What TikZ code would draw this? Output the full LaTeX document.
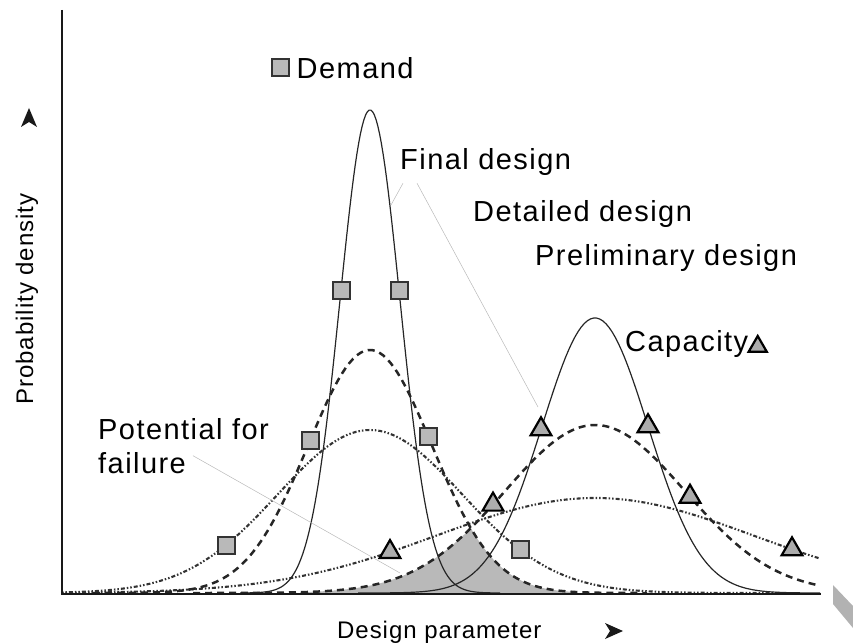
\documentclass[tikz,border=0pt]{standalone}
\usepackage{fontspec}
\setmainfont[LetterSpace=5]{Liberation Sans}
\newfontfamily\axfont[LetterSpace=4]{Liberation Sans}
\usetikzlibrary{shapes,arrows,positioning}

\begin{document}
\begin{tikzpicture}[x=1pt,y=-1pt,node distance=6pt,
  declare function={gs(\x,\m,\s,\h)=593-\h*exp(-0.5*((\x-\m)/\s)^2);}]
  \tikzstyle{lbl} = [inner sep=0pt,font=\fontsize{29}{34}\selectfont]
  \tikzstyle{axlbl} = [inner sep=0pt,font=\axfont\fontsize{24}{28}\selectfont]
  \tikzstyle{fin} = [black!85,line width=1.2pt]
  \tikzstyle{det} = [black!85,line width=2.5pt,dash pattern=on 7pt off 5pt]
  \tikzstyle{pre} = [black!80,line width=2.1pt,dash pattern=on 1.5pt off 2pt on 1.5pt off 2pt on 4pt off 2pt]
  \tikzstyle{sqmark} = [draw=black!80,fill=gray!55,line width=2pt,rectangle,minimum size=17pt,inner sep=0pt]
  \tikzstyle{trimark} = [draw=black,fill=gray!65,line width=2.2pt,regular polygon,regular polygon sides=3,minimum size=24pt,inner sep=0pt]
  \tikzstyle{leader} = [gray!55,line width=0.5pt]
  \useasboundingbox (0,0) rectangle (853,644);
  \fill[gray!55] (300,593) -- plot[domain=300:471,samples=40] (\x,{gs(\x,595,90,168)})
    -- plot[domain=471:570,samples=30] (\x,{gs(\x,370,62,243)}) -- (570,593) -- cycle;
  \draw[pre] plot[domain=62:780,samples=150] (\x,{gs(\x,370,92,163)});
  \draw[pre] plot[domain=62:820,samples=150] (\x,{gs(\x,595,158,95)});
  \draw[det] plot[domain=93:647,samples=150] (\x,{gs(\x,370,62,243)});
  \draw[det] plot[domain=193:820,samples=150] (\x,{gs(\x,595,90,168)});
  \draw[fin] plot[domain=240:500,samples=150] (\x,{gs(\x,370,30,483)});
  \draw[fin] plot[domain=358:820,samples=150] (\x,{gs(\x,595,53,275)});
  \draw[black!90,line width=2pt] (62,10) -- (62,594) -- (821,594);
  \fill[black!90] (29,108) -- (37,127) -- (29,122) -- (21,127) -- cycle;
  \fill[black!90] (623,631) -- (605,623) -- (610,631) -- (605,639) -- cycle;
  \fill[gray!60] (833,585) -- (853,606) -- (853,628) -- (833,604) -- cycle;
  \node (fsqL) [sqmark] at (341,{gs(341,370,30,483)}) {};
  \node (fsqR) [sqmark] at (399,{gs(399,370,30,483)}) {};
  \node (dsqL) [sqmark] at (310,{gs(310,370,62,243)}) {};
  \node (dsqR) [sqmark] at (428,{gs(428,370,62,243)}) {};
  \node (psqL) [sqmark] at (226,{gs(226,370,92,163)}) {};
  \node (psqR) [sqmark] at (520,{gs(520,370,92,163)}) {};
  \node (ftriL) [trimark] at (541,{gs(541,595,53,275)}) {};
  \node (ftriR) [trimark] at (648,{gs(648,595,53,275)}) {};
  \node (dtriL) [trimark] at (493,{gs(493,595,90,168)}) {};
  \node (dtriR) [trimark] at (690,{gs(690,595,90,168)}) {};
  \node (ptriL) [trimark] at (390,{gs(390,595,158,95)}) {};
  \node (ptriR) [trimark] at (792,{gs(792,595,158,95)}) {};
  \node (demsq) [sqmark] at (280,68) {};
  \node (demand) [lbl, right=7pt of demsq] {Demand};
  \node (final) [lbl, anchor=base west] at (400,170) {Final design};
  \node (detailed) [lbl, anchor=base west] at (473,222) {Detailed design};
  \node (prelim) [lbl, anchor=base west] at (535,265) {Preliminary design};
  \node (capacity) [lbl, anchor=base west] at (625,351) {Capacity};
  \node (captri) [trimark, minimum size=21pt, right=2pt of capacity, yshift=-3pt] {};
  \node (potential) [lbl, align=left, anchor=north west] at (98,418) {Potential for\\failure};
  \node (ylabel) [axlbl, rotate=90] at (27,299) {Probability density};
  \node (xlabel) [axlbl, anchor=base west] at (337,638) {Design parameter};
  \coordinate (fdpt) at (391,205);
  \coordinate (fcpt) at (538,407);
  \coordinate (failpt) at (400,573);
  \draw[leader] ([shift={(3pt,-7pt)}]final.south west) -- (fdpt);
  \draw[leader] ([shift={(17pt,-7pt)}]final.south west) -- (fcpt);
  \draw[leader] ([shift={(95pt,18pt)}]potential.south west) -- (failpt);
\end{tikzpicture}
\end{document}
